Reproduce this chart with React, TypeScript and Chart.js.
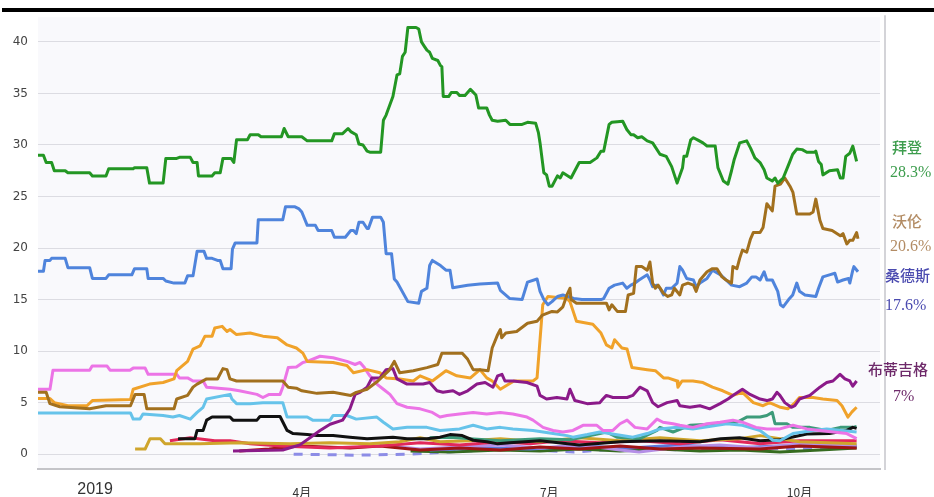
import React, { useEffect, useRef } from 'react';
import { Chart, registerables } from 'chart.js';

Chart.register(...registerables);

type P = [number, number];

// x values are days since 1 Jan 2019
const xTickDays = [14, 90, 181, 273];
const xTickLabels = ['2019', '4月', '7月', '10月'];
const yTickValues = [0, 5, 10, 15, 20, 25, 30, 35, 40];

const bidenPts: P[] = [[-7,29.0],[-5,29.0],[-4,28.3],[-2,28.3],[-1,27.5],[3,27.5],[4,27.3],[12,27.3],[13,27.0],[18,27.0],[19,27.7],[28,27.7],[28.5,27.8],[33,27.8],[34,26.3],[39,26.3],[40,28.7],[44,28.7],[45,28.8],[49,28.8],[50,28.3],[51.5,28.3],[52,27.0],[57,27.0],[58,27.3],[60,27.3],[61,28.7],[64,28.7],[65,28.3],[66,30.5],[70,30.5],[71,31.0],[74,31.0],[75,30.8],[82.5,30.8],[83.5,31.6],[85,30.8],[90,30.8],[92,30.4],[101,30.4],[102,31.1],[105,31.1],[107,31.6],[108,31.3],[110,31.0],[111,30.1],[112.5,30.0],[114,29.4],[115,29.3],[119,29.3],[120,32.4],[121,32.9],[123.5,34.7],[125,36.8],[126,36.9],[127,38.6],[128,39.0],[129,41.4],[132,41.4],[133,41.25],[134,40.0],[135,39.6],[136,39.2],[137,39.0],[138,38.4],[140,38.2],[141,37.7],[141.5,37.6],[142,34.7],[144,34.7],[145,35.1],[147,35.1],[148,34.8],[150,34.8],[152,35.4],[154,34.85],[155,33.6],[158,33.6],[159,32.9],[160,32.4],[162,32.3],[165,32.4],[166.5,32.0],[171,32.0],[173,32.2],[176,32.1],[177,31.2],[177.6,30.2],[179,27.3],[180,27.1],[181,26.0],[182,26.0],[184,27.0],[185,26.8],[186,27.3],[189,26.8],[190,27.3],[192,28.3],[196,28.3],[198.5,28.75],[200,29.4],[201,29.4],[203,32.0],[204,32.2],[208,32.3],[209.5,31.5],[211,31.0],[212,31.0],[213.5,30.7],[215,30.8],[217,30.4],[219,30.2],[221.7,29.1],[224,28.9],[226,27.9],[227,27.1],[228,26.3],[230,27.8],[230.5,28.9],[231.5,28.9],[233,30.5],[234,30.7],[235.5,30.5],[237.5,30.2],[239,29.9],[242,29.9],[243,27.8],[245,26.5],[246.7,26.2],[248,27.5],[249,28.6],[251,30.2],[253.6,30.4],[255,29.7],[256.6,28.75],[258.5,28.3],[260,27.6],[261,26.8],[263,26.5],[264,26.8],[265,26.3],[267,26.8],[269,28.1],[270.5,29.1],[272,29.6],[274,29.55],[275.7,29.3],[278.6,29.3],[279,29.4],[280,28.4],[281,28.1],[281.6,27.1],[284,27.5],[287,27.6],[288,26.8],[289,26.8],[290,28.9],[291.5,29.2],[292.6,29.9],[294,28.4]];

const sandersPts: P[] = [[-7,17.75],[-5,17.75],[-4.4,18.8],[-2.6,18.8],[-2,19.0],[3,19.0],[4,18.1],[12,18.1],[13,17.05],[18,17.05],[19,17.4],[27.5,17.4],[28.5,18.0],[33,18.0],[33.5,17.05],[39,17.05],[40,16.8],[43,16.6],[47,16.6],[48,17.3],[50,17.3],[51.5,19.7],[54,19.7],[55,19.0],[57,19.0],[59,18.8],[60,18.8],[61,18.0],[64,18.0],[64.5,19.9],[65.5,20.5],[73.5,20.5],[74,22.75],[83,22.75],[84,24.0],[87.5,24.0],[89,23.8],[90,23.5],[92,22.2],[95,22.2],[96,21.7],[101,21.7],[102,21.05],[106,21.05],[108,21.7],[109,21.7],[110,21.4],[111,22.5],[112.5,22.5],[114,21.9],[114.5,21.9],[116,23.0],[119,23.0],[120,22.5],[121,19.45],[123,19.45],[124,17.0],[125,16.7],[129,14.8],[133,14.65],[134,15.8],[136,16.1],[137,18.3],[138,18.8],[141,18.3],[143,17.85],[144.5,17.85],[145.5,16.15],[151,16.4],[155.5,16.5],[162,16.6],[163,15.9],[166.5,15.1],[171,15.0],[173,16.7],[176.5,17.0],[177.6,15.8],[179,15.0],[180.5,14.5],[182,14.8],[184,15.3],[186,15.45],[190,15.1],[193,15.0],[200,15.0],[201,15.1],[203,16.1],[205,16.4],[208,16.6],[209.5,16.1],[211,16.4],[212.5,16.6],[214,16.9],[217,17.4],[218,16.9],[219,16.25],[220.5,16.4],[221.7,16.1],[223,15.45],[224,16.1],[226,16.1],[228,16.6],[229,18.2],[230,17.85],[231.5,17.05],[234,16.9],[235,16.25],[236.4,16.6],[239,17.05],[241,17.85],[244,17.4],[246,16.9],[248,16.4],[251,16.25],[253.6,16.6],[255.5,17.2],[257,17.2],[258.5,16.9],[260,17.7],[261,16.9],[263,16.9],[265,15.8],[266,14.5],[267,14.3],[269,15.0],[270.5,15.45],[272,16.6],[273,15.8],[275,15.45],[279,15.3],[280,16.1],[281.6,17.2],[284,17.4],[286,17.55],[287,16.7],[289,16.9],[291,17.05],[291.5,16.6],[292.6,17.85],[293,18.2],[294.5,17.7]];

const warrenPts: P[] = [[-7,6.0],[-4,6.0],[-2.6,4.9],[1,4.6],[12,4.4],[18,4.7],[27,4.7],[28.7,5.8],[32,5.8],[33,4.4],[43,4.4],[44,5.35],[48,5.7],[50,6.5],[51.5,6.8],[55,7.3],[59,7.3],[61,8.3],[62.5,8.2],[63.6,7.3],[66,7.1],[83,7.1],[85,6.5],[88,6.4],[90,6.15],[95.6,5.9],[101.5,6.0],[108,5.7],[110,6.0],[114,6.3],[118,7.1],[122,8.1],[124,9.0],[126,7.9],[131,8.1],[136,8.4],[140,8.7],[141.5,9.8],[149,9.8],[151,9.2],[153,8.2],[155.5,8.2],[158.5,8.1],[160,10.3],[162,11.6],[163,12.1],[163.5,11.3],[165,11.75],[169,11.9],[173,12.7],[176.5,12.9],[178.5,13.5],[182,13.85],[184,13.8],[186,14.3],[187.5,15.45],[188.6,16.1],[189,15.0],[191,14.65],[202,14.65],[203,14.0],[204,14.5],[206,13.85],[209,13.85],[210,15.45],[212,15.6],[213,18.2],[215,18.2],[217,17.85],[218,18.65],[219,16.6],[220,16.1],[221,16.4],[223,15.6],[224.6,15.3],[226,15.45],[227,16.1],[229,15.45],[230,16.4],[232,16.6],[234,16.4],[235,15.8],[236.4,16.9],[239,17.7],[241,18.0],[242.6,18.0],[244.5,17.2],[246,16.9],[248,16.6],[248.5,18.2],[250,18.0],[251,19.0],[252,19.8],[253.6,19.6],[255,20.9],[256,21.5],[258.5,21.5],[259.6,22.0],[261,24.3],[263,23.6],[264,26.0],[266,26.2],[267.6,26.8],[269.5,26.0],[270.6,25.4],[272,23.3],[276.8,23.3],[278,23.5],[279,24.75],[280.5,22.7],[281.6,21.9],[285,21.7],[288,21.2],[289,21.4],[290.4,20.4],[291.5,20.75],[292.6,20.75],[294,21.5],[294.5,20.9]];

const buttigiegPts: P[] = [[64.7,0.3],[83,0.4],[89.3,0.9],[93,1.6],[96.7,2.3],[100.4,2.9],[105,3.3],[107.7,4.4],[109.6,5.8],[111.4,6.0],[114,6.5],[115.8,7.4],[118.7,7.4],[121,8.2],[123.5,8.3],[125,7.3],[128.7,6.8],[134.6,6.8],[137,6.95],[139.7,6.15],[141.9,6.0],[145.6,6.15],[148,5.8],[151,6.15],[154.4,6.8],[157.4,6.95],[160.3,6.5],[162,7.6],[163.6,7.75],[164.7,7.1],[167.6,7.1],[172.8,6.95],[176.5,6.6],[177.6,5.7],[180,5.35],[183.8,5.5],[187.5,5.35],[188.6,6.3],[190.4,5.2],[194.9,4.9],[199.6,5.0],[200.7,5.35],[202,5.7],[204.4,5.5],[209.6,5.5],[211.7,5.7],[214.3,6.5],[217,6.15],[219,5.0],[221,4.6],[224.3,5.0],[228,5.2],[229,4.7],[232.7,4.55],[236.4,4.7],[240,4.4],[243.8,4.9],[246.7,5.35],[248.5,5.7],[252,6.3],[254.8,5.8],[258.5,5.35],[261,5.2],[263,5.35],[264.7,6.0],[265.8,5.7],[267.6,5.0],[270,4.55],[271.3,4.7],[273,5.35],[276.8,5.7],[280.5,6.5],[283,6.95],[285.3,7.1],[287.9,7.75],[289.7,7.3],[291.5,7.1],[292.6,6.6],[294,7.1]];

const harrisPts: P[] = [[-7,5.4],[-2.6,5.4],[-1,5.0],[4,4.7],[11,4.7],[13,5.2],[27,5.3],[28,6.3],[34,6.8],[39,6.95],[43,7.3],[44,8.1],[48,9.0],[50,10.2],[52.6,10.5],[54.4,11.45],[57,11.45],[58,12.25],[60.7,12.4],[62.5,11.9],[63.6,12.1],[66,11.6],[71,11.75],[75.7,11.45],[81,11.3],[84.6,10.6],[88,10.3],[90.4,9.8],[92,9.0],[101.5,8.9],[106.6,8.6],[109,7.9],[114,8.2],[118.7,7.9],[121,7.4],[126,7.3],[131,7.1],[133.5,7.6],[138,7.1],[143,8.1],[147,7.6],[152,7.4],[155.5,8.2],[158,7.4],[160,7.1],[163,6.3],[168,7.1],[175,7.1],[176.5,7.4],[178.6,14.5],[180.5,15.3],[187.5,15.1],[188.6,14.8],[191,12.9],[197,12.6],[200,11.75],[202,10.6],[204,10.3],[205,11.1],[207.7,10.3],[209.6,10.2],[211.4,8.4],[217,8.2],[220,8.1],[223,7.4],[224.6,7.4],[228,7.1],[228.3,6.5],[229.8,7.1],[233.8,7.1],[237.5,6.95],[241,6.5],[244.8,6.15],[248.5,5.7],[252,6.0],[256,5.0],[259.6,4.7],[262,5.0],[266,4.55],[268.7,4.4],[271,4.9],[273,5.5],[278,5.5],[281.6,5.35],[286.8,5.2],[288.6,4.7],[290.8,3.6],[292.3,4.1],[294,4.55]];

const orourkePts: P[] = [[-7,6.3],[-2.6,6.3],[-1.5,8.15],[12,8.15],[12.9,8.55],[18.4,8.55],[19.5,8.15],[26.8,8.15],[28,8.35],[32.4,8.35],[33.5,7.75],[44,7.75],[45,7.4],[48,7.4],[50,7.1],[53.7,7.1],[55,6.5],[63.6,6.3],[67,6.15],[73.5,5.8],[75.7,5.5],[78,5.8],[82,5.8],[83,6.5],[85,8.4],[88,8.45],[90.4,8.9],[92,9.0],[96.7,9.5],[101.5,9.35],[106.6,9.0],[109.6,8.7],[111.4,8.9],[113,8.4],[115,7.6],[117.6,6.8],[120,6.3],[122.4,5.8],[125,4.9],[128.7,4.55],[133.5,4.4],[138,4.05],[140.8,3.6],[143.4,3.75],[148,3.9],[153,4.05],[158,3.9],[163,4.05],[167.6,3.9],[172.8,3.6],[175,3.3],[178.7,2.6],[182.4,2.3],[186,2.15],[189.7,2.3],[193.4,2.8],[198.5,2.8],[200.7,2.3],[204.4,2.3],[207,2.95],[209.6,3.3],[212.5,2.6],[217,2.45],[220.6,3.4],[222.8,3.1],[226.5,2.95],[229,2.8],[233.8,2.6],[239,2.95],[243.8,3.1],[248.5,3.3],[252,3.1],[257,2.6],[261,2.45],[265.8,2.45],[270.6,2.8],[275.7,2.45],[280.5,2.3],[285.3,2.15],[290.4,2.0],[294,1.5]];

const bookerPts: P[] = [[-7,4.0],[27,4.0],[28,3.4],[30.5,3.4],[31.6,3.9],[39,3.75],[42.6,3.6],[45,3.75],[49,3.4],[51.5,4.05],[53.7,4.55],[55,5.35],[63.6,5.8],[64.3,5.35],[66,4.9],[71,4.9],[75.7,5.0],[83,5.0],[84.6,3.6],[92,3.6],[94,3.3],[100.4,3.3],[101.5,3.75],[106.6,3.75],[110,3.4],[117.6,3.6],[120,3.1],[123.5,2.45],[128.7,2.6],[136,2.6],[140.8,2.3],[148,2.45],[153,2.8],[158,2.45],[163,2.6],[167.6,2.45],[175,2.3],[182.4,2.0],[187.5,1.8],[189.7,1.65],[195,1.9],[199.6,2.15],[211.7,1.65],[217,2.0],[221.7,2.45],[228,2.6],[233.8,2.45],[246.3,2.95],[252,2.8],[258.5,2.3],[263.2,1.35],[265.8,1.3],[270.6,2.0],[278,2.3],[283,2.45],[294,2.15]];

const blackPts: P[] = [[44.5,1.5],[50.7,1.5],[51.5,2.3],[53.7,2.3],[55,3.3],[57,3.6],[63.6,3.6],[64.7,3.3],[73.5,3.3],[74.6,3.65],[82,3.65],[84.6,2.3],[86.8,2.0],[92,1.9],[95.6,1.8],[101.5,1.8],[107.7,1.65],[114,1.5],[123.5,1.65],[128.7,1.5],[136,1.5],[140.8,1.65],[144.5,1.9],[149,1.8],[153,1.35],[158,1.2],[162,1.0],[166.5,1.1],[177.6,1.3],[192,0.9],[207,1.2],[221.7,1.3],[236.4,1.2],[244,1.5],[251,1.6],[258.5,1.3],[265.8,1.4],[275.7,1.95],[284,2.0],[290.4,2.3],[292.6,2.6],[294,2.5]];

const tealPts: P[] = [[137,1.6],[144.5,1.65],[151.8,1.5],[163,1.3],[177.6,1.5],[188.6,1.4],[199.6,2.0],[202,2.15],[205.8,1.65],[214.3,1.5],[220.6,2.3],[221.7,2.6],[226.5,2.15],[232.7,2.8],[243.8,2.95],[250,3.1],[253.6,3.6],[258.5,3.6],[261,3.75],[263,4.05],[264,2.95],[268.4,2.95],[270.6,2.6],[276.8,2.6],[283,2.3],[288,2.6],[292.6,2.6],[294,2.7]];

const goldPts: P[] = [[28.7,0.5],[32.4,0.5],[34.2,1.5],[38,1.5],[39.7,1.0],[52.6,1.0],[67,1.1],[85.7,1.0],[100.4,1.1],[115,1.0],[126,1.2],[133.5,1.6],[140.8,1.2],[151.8,1.3],[163,1.5],[177.6,1.2],[192,1.6],[207,1.3],[221.7,1.6],[236.4,1.3],[251,1.5],[258.5,1.8],[273,1.2],[294,1.0]];

const crimsonPts: P[] = [[41.5,1.3],[49,1.6],[58,1.3],[63.6,1.3],[71,1.0],[82,0.8],[100.4,0.6],[118.7,0.8],[133.5,1.1],[148,0.9],[163,1.2],[174,1.0],[185,1.3],[199.6,1.1],[214.3,1.3],[229,1.0],[243.8,1.4],[258.5,1.0],[273,1.3],[294,1.3]];

const darkRedPts: P[] = [[67,0.3],[78,0.5],[89.3,0.8],[107.7,0.6],[118.7,0.8],[133.5,0.4],[148,0.6],[163,0.4],[177.6,0.7],[192,0.5],[207,0.8],[221.7,0.5],[236.4,0.6],[258.5,0.5],[273,0.8],[294,0.6]];

const periwinklePts: P[] = [[87,0.0],[110,-0.1],[130,0.0],[150,0.3],[170,0.5],[190,0.2],[210,0.6],[230,0.4],[250,0.7],[270,0.5],[294,0.7]];

const darkGreenPts: P[] = [[130,0.3],[144.5,0.2],[163,0.4],[177.6,0.3],[192,0.5],[207,0.3],[221.7,0.5],[236.4,0.3],[251,0.4],[265.8,0.2],[280.5,0.4],[294,0.6]];

const lavenderPts: P[] = [[118.7,0.9],[133.5,0.5],[148,0.7],[163,0.9],[177.6,0.6],[192,0.9],[207,0.4],[214,0.2],[229,0.7],[243.8,0.9],[258.5,0.6],[273,1.0],[294,0.9]];

const midBluePts: P[] = [[137,0.4],[155.5,0.6],[174,0.5],[192,0.8],[210.7,0.6],[229,0.9],[247.4,0.6],[265.8,0.8],[294,0.8]];

const seriesList: { name: string; pts: P[]; color: string; dash?: number[] }[] = [
  { name: '拜登', pts: bidenPts, color: '#239623' },
  { name: '沃伦', pts: warrenPts, color: '#a2701e' },
  { name: '桑德斯', pts: sandersPts, color: '#4f84dc' },
  { name: '布蒂吉格', pts: buttigiegPts, color: '#8b1a89' },
  { name: 'Harris', pts: harrisPts, color: '#f0a22a' },
  { name: "O'Rourke", pts: orourkePts, color: '#ec74e6' },
  { name: 'Booker', pts: bookerPts, color: '#66c3ea' },
  { name: 'Black', pts: blackPts, color: '#111111' },
  { name: 'Teal', pts: tealPts, color: '#3d9b7a' },
  { name: 'Gold', pts: goldPts, color: '#cfa52c' },
  { name: 'Crimson', pts: crimsonPts, color: '#e2285a' },
  { name: 'DarkRed', pts: darkRedPts, color: '#a01414' },
  { name: 'Lavender', pts: lavenderPts, color: '#b48ee6' },
  { name: 'MidBlue', pts: midBluePts, color: '#5b78dc' },
  { name: 'DarkGreen', pts: darkGreenPts, color: '#356b1f' },
  { name: 'Periwinkle', pts: periwinklePts, color: '#8c8ce6', dash: [9, 8] },
];

const endLabelNames = ['拜登', '沃伦', '桑德斯', '布蒂吉格'];
const endLabelValues = ['28.3%', '20.6%', '17.6%', '7%'];
const endLabelStyles = [
  { color: '#3e9d4e', nameLeft: 892, nameTop: 140, valLeft: 890, valTop: 163 },
  { color: '#b38c64', nameLeft: 892, nameTop: 214, valLeft: 890, valTop: 237 },
  { color: '#4b4bb0', nameLeft: 885, nameTop: 268, valLeft: 885, valTop: 296 },
  { color: '#6e2a6a', nameLeft: 868, nameTop: 362, valLeft: 893, valTop: 387 },
];

const framePlugin = {
  id: 'frame',
  beforeDraw(chart: any) {
    const { ctx, chartArea: a } = chart;
    ctx.save();
    ctx.fillStyle = '#f9f9fc';
    ctx.fillRect(a.left, a.top, a.right - a.left, a.bottom - a.top);
    ctx.restore();
  },
  afterDraw(chart: any) {
    const { ctx, chartArea: a } = chart;
    ctx.save();
    ctx.strokeStyle = '#d4d4d8';
    ctx.lineWidth = 2;
    ctx.beginPath();
    ctx.moveTo(a.right + 5, a.top - 2);
    ctx.lineTo(a.right + 5, a.bottom + 1);
    ctx.stroke();
    ctx.restore();
  },
};

export default function App() {
  const ref = useRef<HTMLCanvasElement | null>(null);
  useEffect(() => {
    if (!ref.current) return;
    const chart = new Chart(ref.current, {
      type: 'line',
      data: {
        datasets: seriesList.map((s) => ({
          label: s.name,
          data: s.pts.map(([x, y]) => ({ x, y })),
          borderColor: s.color,
          backgroundColor: s.color,
          borderWidth: 3,
          borderDash: s.dash || [],
          pointRadius: 0,
          tension: 0,
          fill: false,
          borderJoinStyle: 'round' as const,
        })),
      },
      options: {
        responsive: false,
        animation: false,
        devicePixelRatio: 1,
        layout: { padding: { top: 13, right: 54, left: 0, bottom: 0 } },
        plugins: { legend: { display: false }, tooltip: { enabled: false }, title: { display: false } },
        scales: {
          x: {
            type: 'linear',
            min: -7,
            max: 302.6,
            afterFit: (scale: any) => { scale.height = 28; },
            afterBuildTicks: (scale: any) => { scale.ticks = xTickDays.map((v) => ({ value: v })); },
            grid: { display: false, drawTicks: false },
            border: { display: true, color: '#c4c4c8', width: 2 },
            ticks: {
              autoSkip: false,
              maxRotation: 0,
              padding: 11,
              color: '#333',
              callback: (v: any) => {
                const i = xTickDays.indexOf(Number(v));
                return i >= 0 ? xTickLabels[i] : '';
              },
              font: (ctx: any) =>
                ctx.index === 0
                  ? { family: '"Liberation Sans", Arial, sans-serif', size: 16, lineHeight: 1.2 }
                  : { family: '"Noto Sans CJK SC", sans-serif', size: 12, lineHeight: 2.0 },
            },
          },
          y: {
            type: 'linear',
            min: -1.44,
            max: 42.4,
            afterFit: (scale: any) => { scale.width = 38; },
            afterBuildTicks: (scale: any) => { scale.ticks = yTickValues.map((v) => ({ value: v })); },
            grid: { color: '#dcdce2', lineWidth: 1, drawTicks: false },
            border: { display: false },
            ticks: {
              padding: 10,
              color: '#444',
              font: { family: '"DejaVu Sans", sans-serif', size: 12 },
              callback: (v: any) => String(v),
            },
          },
        },
      },
      plugins: [framePlugin],
    } as any);
    return () => chart.destroy();
  }, []);

  const textFont = '"Liberation Serif", "Noto Sans CJK SC", serif';
  return (
    <div style={{ position: 'fixed', left: 0, top: 0, width: 934, height: 497, background: '#fff', overflow: 'hidden' }}>
      <canvas ref={ref} width={934} height={497} style={{ position: 'absolute', left: 0, top: 0, width: 934, height: 497 }} />
      <div style={{ position: 'absolute', left: 2, top: 8, width: 932, height: 4, background: '#000' }} />
      {endLabelNames.map((n, i) => (
        <React.Fragment key={n}>
          <div style={{ position: 'absolute', left: endLabelStyles[i].nameLeft, top: endLabelStyles[i].nameTop, color: endLabelStyles[i].color, fontFamily: textFont, fontSize: 15, lineHeight: '16px', fontWeight: 500, whiteSpace: 'nowrap' }}>{n}</div>
          <div style={{ position: 'absolute', left: endLabelStyles[i].valLeft, top: endLabelStyles[i].valTop, color: endLabelStyles[i].color, fontFamily: textFont, fontSize: 16, lineHeight: '18px', whiteSpace: 'nowrap' }}>{endLabelValues[i]}</div>
        </React.Fragment>
      ))}
    </div>
  );
}
